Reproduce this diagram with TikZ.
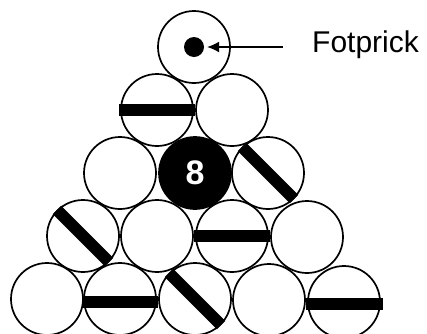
\documentclass[tikz,border=0pt]{standalone}
\usepackage{fontspec}
\setmainfont{Liberation Sans}
\usetikzlibrary{arrows.meta}
\begin{document}
\begin{tikzpicture}[x=1pt,y=-1pt,
  ball/.style={circle,draw=black,line width=1.7pt,fill=white,minimum size=72pt,inner sep=0pt},
  eightball/.style={ball,fill=black,text=white,font=\bfseries\fontsize{34}{34}\selectfont},
  hstripe/.style={line width=12pt,line cap=butt},
  dot/.style={circle,fill=black,minimum size=20pt,inner sep=0pt},
  lbl/.style={font=\fontsize{30}{30}\selectfont,inner sep=0pt,anchor=west},
  pointer/.style={line width=1.2pt,-{Latex[length=12pt,width=11pt]}}]
\useasboundingbox (0,0) rectangle (427,333);
% row 1
\node[ball] (b11) at (194,47) {};
% row 2
\node[ball] (b21) at (157,110) {};
\draw[hstripe] ([xshift=-1pt]b21.west) -- ([xshift=1pt]b21.east);
\node[ball] (b22) at (232,110) {};
% row 3
\node[ball] (b31) at (120,173) {};
\node[eightball] (b32) at (195,173) {8};
\node[ball] (b33) at (268,173) {};
\draw[hstripe] (b33.north west) -- (b33.south east);
% row 4
\node[ball] (b41) at (83,236) {};
\draw[hstripe] (b41.north west) -- (b41.south east);
\node[ball] (b42) at (157,236) {};
\node[ball] (b43) at (232,236) {};
\draw[hstripe] ([xshift=-1pt]b43.west) -- ([xshift=1pt]b43.east);
\node[ball] (b44) at (307,237) {};
% row 5
\node[ball] (b51) at (47,299) {};
\node[ball] (b52) at (120,299) {};
\draw[hstripe] ([xshift=-1pt,yshift=-3pt]b52.west) -- ([xshift=1pt,yshift=-3pt]b52.east);
\node[ball] (b53) at (195,299) {};
\draw[hstripe] (b53.north west) -- (b53.south east);
\node[ball] (b54) at (269,300) {};
\node[ball] (b55) at (344,302) {};
\draw[hstripe] ([xshift=-1pt,yshift=-2pt]b55.west) -- ([xshift=2pt,yshift=-2pt]b55.east);
% label
\node[dot] (dt) at (194,47) {};
\node[lbl] (fp) at (312,45) {Fotprick};
\coordinate (as) at (283,47);
\draw[pointer] (as) -- ([xshift=3pt]dt.east);
\end{tikzpicture}
\end{document}
